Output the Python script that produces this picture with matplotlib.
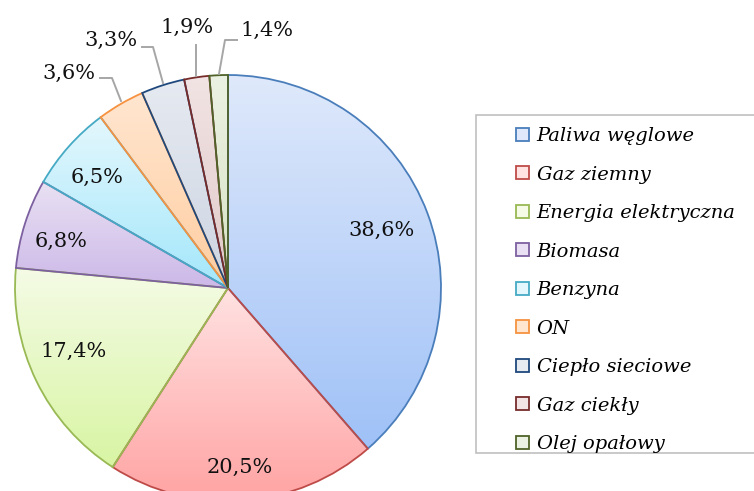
import matplotlib

matplotlib.use("Agg")
import matplotlib.pyplot as plt
import numpy as np
from matplotlib.colors import LinearSegmentedColormap
from matplotlib.patches import Patch, Rectangle

W, H = 754, 491

categories = [
    "Paliwa węglowe", "Gaz ziemny", "Energia elektryczna", "Biomasa",
    "Benzyna", "ON", "Ciepło sieciowe", "Gaz ciekły", "Olej opałowy",
]
shares = [38.6, 20.5, 17.4, 6.8, 6.5, 3.6, 3.3, 1.9, 1.4]

edge_colors = ["#4a7ebb", "#be4b48", "#98b954", "#7d60a0", "#46aac5",
               "#f69240", "#1f497d", "#772c2a", "#4f6228"]
top_colors = ["#dfe9fb", "#ffe2e2", "#f5fbe6", "#e9e1f3", "#e4f7fd",
              "#ffe6d0", "#e6eaf1", "#f2e4e4", "#ecf2e3"]
bottom_colors = ["#9fc1f7", "#ffa3a3", "#d8f5a3", "#ccb8e8", "#a3e7fb",
                 "#ffcda0", "#cdd5e2", "#e0c8c8", "#d6e2c4"]

# label centres in pixel coords (x, y from top), Excel "best fit" placement
label_pos = [(382, 230), (240, 467), (74, 351), (61, 241), (97, 177),
             (69, 73), (111, 40), (187, 27), (267, 30)]
leaders = {
    5: [(100, 78), (112, 78), (121, 101)],
    6: [(142, 47), (153, 47), (163, 83)],
    7: [(196, 45), (196, 76)],
    8: [(237, 40), (225, 40), (219, 74)],
}

fig = plt.figure(figsize=(W / 100, H / 100), dpi=100)
ax = fig.add_axes([0, 0, 1, 1])

cx, cy, r = 228, H - 288, 213
wedges, _ = ax.pie(shares, center=(cx, cy), radius=r, startangle=90,
                   counterclock=False, frame=True,
                   wedgeprops=dict(linewidth=1.3, zorder=3))

grad = np.linspace(0, 1, 256).reshape(-1, 1)
for w, ec, c0, c1 in zip(wedges, edge_colors, top_colors, bottom_colors):
    w.set_facecolor("none")
    w.set_edgecolor(ec)
    ext = w.get_path().get_extents()
    cmap = LinearSegmentedColormap.from_list("g", [c1, c0])
    im = ax.imshow(grad, cmap=cmap, origin="lower", aspect="auto",
                   extent=(ext.x0, ext.x1, ext.y0, ext.y1), zorder=2)
    im.set_clip_path(w)

ax.set_xlim(0, W)
ax.set_ylim(0, H)
ax.set_aspect("equal")
ax.axis("off")

font = dict(family="DejaVu Serif", fontsize=15, color="#111111")
for v, (x, y) in zip(shares, label_pos):
    ax.text(x, H - y, f"{v:.1f}%".replace(".", ","), ha="center",
            va="center", zorder=5, **font)

for pts in leaders.values():
    xs = [p[0] for p in pts]
    ys = [H - p[1] for p in pts]
    ax.plot(xs, ys, color="#a6a6a6", linewidth=1.4, zorder=4)

# legend box
ax.add_patch(Rectangle((476, H - 453), 300, 338, facecolor="white",
                       edgecolor="#c0c0c0", linewidth=1.2, zorder=4,
                       clip_on=False))
handles = [Patch(facecolor=c0, edgecolor=ec, linewidth=1.3)
           for c0, ec in zip(top_colors, edge_colors)]
leg = ax.legend(handles, categories, loc="upper left",
                bbox_to_anchor=(516 / W, 1 - 127 / H), frameon=False,
                borderaxespad=0, borderpad=0, handlelength=0.68,
                handleheight=0.68, handletextpad=0.38, labelspacing=1.055,
                prop=dict(family="DejaVu Serif", style="italic", size=14))
leg.set_zorder(6)

fig.savefig("out.png", dpi=100, facecolor="white")
